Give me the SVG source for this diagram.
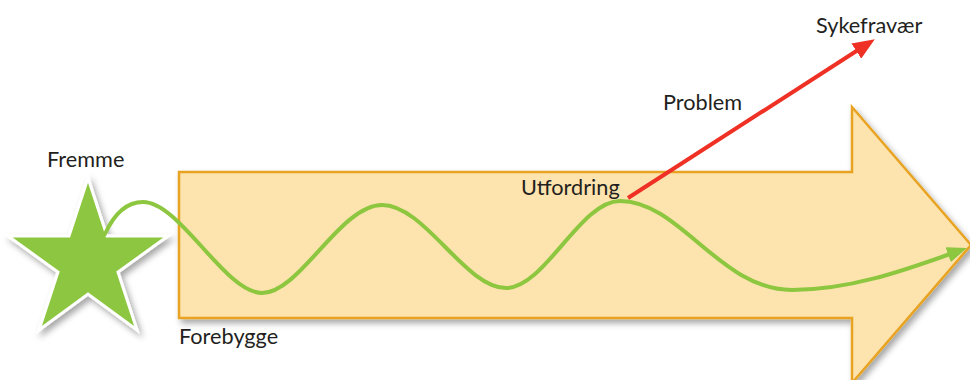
<svg xmlns="http://www.w3.org/2000/svg" width="970" height="380" viewBox="0 0 970 380">
  <defs>
    <filter id="shadow" x="-20%" y="-20%" width="140%" height="140%">
      <feDropShadow dx="3" dy="4" stdDeviation="3" flood-color="#000" flood-opacity="0.35"/>
    </filter>
    <marker id="greenHead" viewBox="0 0 20 16" refX="2" refY="8" markerWidth="20" markerHeight="16" markerUnits="userSpaceOnUse" orient="auto">
      <path d="M0,0 L20,8 L0,16 Z" fill="#8dc63f"/>
    </marker>
    <marker id="redHead" viewBox="0 0 22 18" refX="2" refY="9" markerWidth="22" markerHeight="18" markerUnits="userSpaceOnUse" orient="auto">
      <path d="M0,0 L22,9 L0,18 Z" fill="#ee3124"/>
    </marker>
    <style>
      .lbl { font-family: Lato, "Open Sans", "Liberation Sans", sans-serif; font-size: 21.7px; fill: #231f20; }
      .wave { fill: none; stroke: #8dc63f; stroke-width: 4; stroke-linecap: round; }
      .red { fill: none; stroke: #ee3124; stroke-width: 4; }
    </style>
  </defs>

  <g id="big-arrow">
    <path d="M179,172 L852,172 L852,107 L971,245 L852,383 L852,318 L179,318 Z" fill="#fde3ad" stroke="#e8a320" stroke-width="2.5" stroke-linejoin="miter" filter="url(#shadow)"/>
  </g>

  <g id="star">
    <polygon points="88,178 107,236 168,236 118,272 137,330 88,294 39,330 58,272 8,236 69,236" fill="#8dc63f" stroke="#ffffff" stroke-width="3" stroke-linejoin="miter" filter="url(#shadow)"/>
  </g>

  <g id="connectors">
    <path class="wave" d="M105,234 C115,212 128,202 143,202 C180,202 225,293 262,293 C300,293 340,205 382,205 C425,205 465,288 506,288 C545,288 580,201 620,201 C680,201 720,290 792,290 C850,290 905,270 950,254" marker-end="url(#greenHead)"/>
    <path class="red" d="M628,198 L858,50" marker-end="url(#redHead)"/>
  </g>

  <g id="labels">
    <text class="lbl" x="47" y="167">Fremme</text>
    <text class="lbl" x="179" y="344">Forebygge</text>
    <text class="lbl" x="521" y="195">Utfordring</text>
    <text class="lbl" x="663" y="110">Problem</text>
    <text class="lbl" x="816" y="33">Sykefravær</text>
  </g>
</svg>
